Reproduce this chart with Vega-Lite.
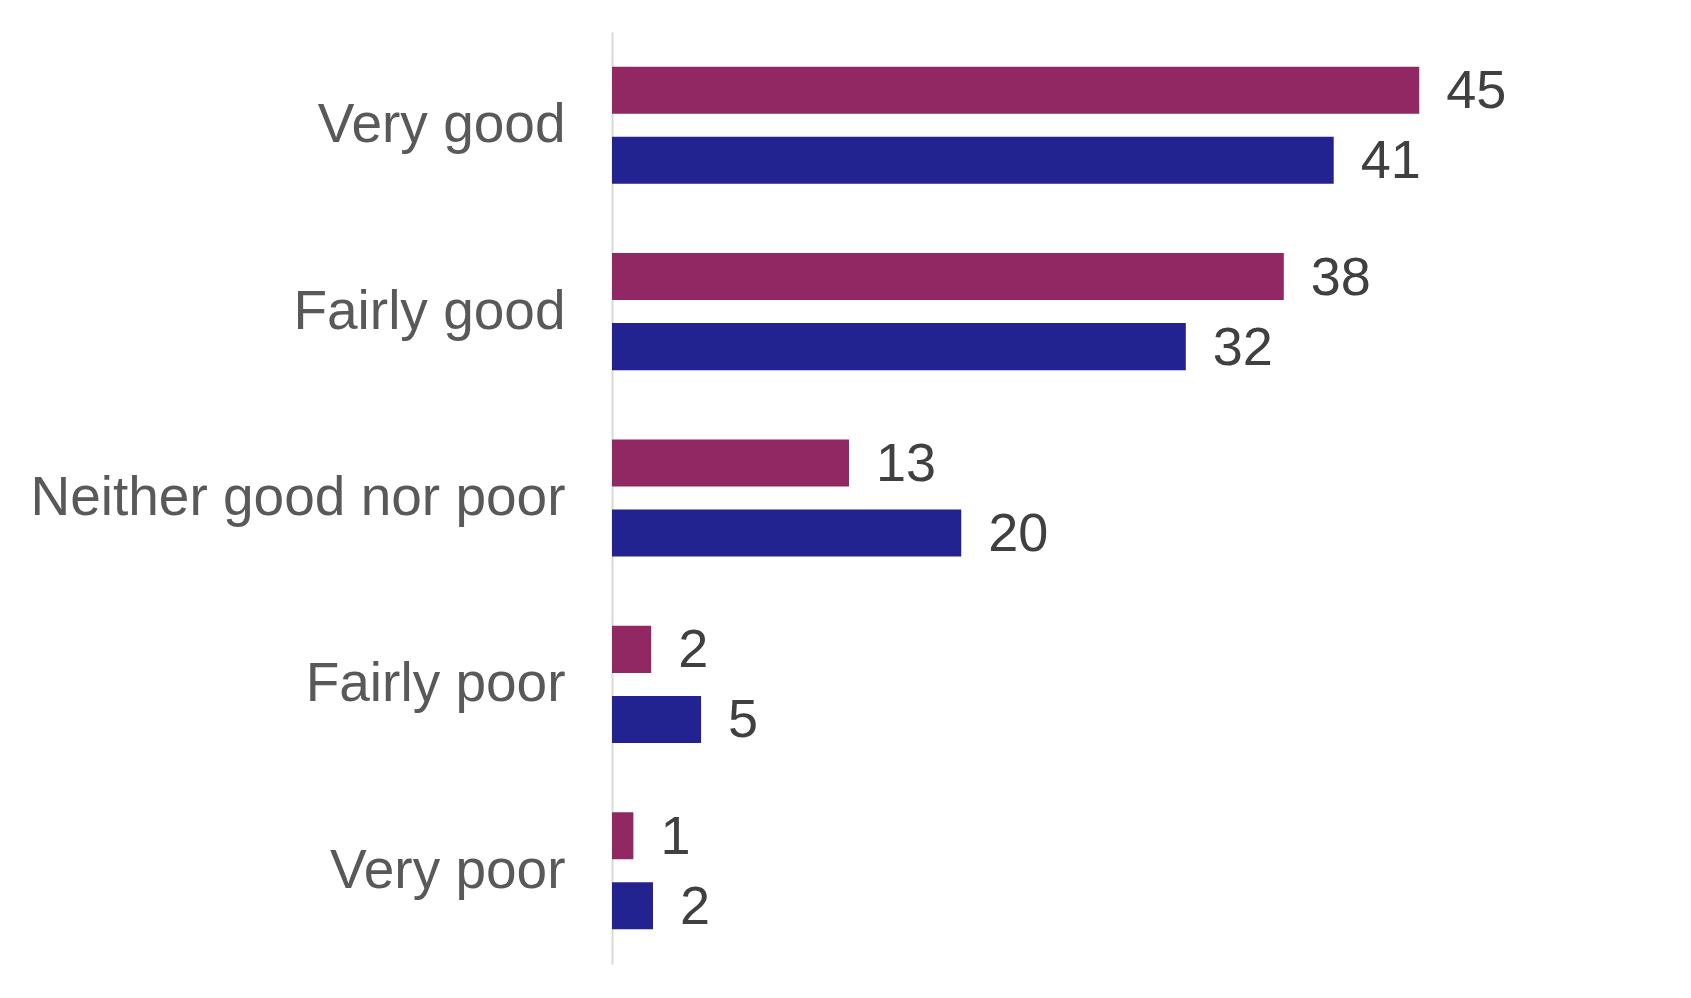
{
  "$schema": "https://vega.github.io/schema/vega-lite/v6.json",
  "autosize": {"type": "none"},
  "padding": {"left": 612, "top": 32, "right": 188, "bottom": 34},
  "width": 891,
  "height": 932,
  "background": "white",
  "config": {
    "view": {"stroke": null},
    "font": "Liberation Sans"
  },
  "data": {
    "values": [
      {"rating": "Very good", "series": "Group 1", "value": 45.3, "label": "45"},
      {"rating": "Very good", "series": "Group 2", "value": 40.5, "label": "41"},
      {"rating": "Fairly good", "series": "Group 1", "value": 37.7, "label": "38"},
      {"rating": "Fairly good", "series": "Group 2", "value": 32.2, "label": "32"},
      {"rating": "Neither good nor poor", "series": "Group 1", "value": 13.3, "label": "13"},
      {"rating": "Neither good nor poor", "series": "Group 2", "value": 19.6, "label": "20"},
      {"rating": "Fairly poor", "series": "Group 1", "value": 2.2, "label": "2"},
      {"rating": "Fairly poor", "series": "Group 2", "value": 5.0, "label": "5"},
      {"rating": "Very poor", "series": "Group 1", "value": 1.2, "label": "1"},
      {"rating": "Very poor", "series": "Group 2", "value": 2.3, "label": "2"}
    ]
  },
  "encoding": {
    "y": {
      "field": "rating", "type": "nominal", "sort": null,
      "scale": {"paddingInner": 0.372, "paddingOuter": 0.186},
      "axis": {
        "title": null,
        "ticks": false,
        "tickSize": 0,
        "grid": false,
        "domainColor": "#d9d9d9",
        "domainWidth": 2,
        "labelFont": "Liberation Sans",
        "labelFontSize": 55,
        "labelColor": "#595959",
        "labelPadding": 47,
        "labelLimit": 0
      }
    },
    "yOffset": {
      "field": "series", "type": "nominal", "sort": null,
      "scale": {"paddingInner": 0.329, "paddingOuter": 0}
    },
    "x": {
      "field": "value", "type": "quantitative",
      "scale": {"domain": [0, 50], "nice": false},
      "axis": null
    }
  },
  "layer": [
    {
      "mark": {"type": "bar"},
      "encoding": {
        "color": {
          "field": "series", "type": "nominal", "legend": null,
          "scale": {"domain": ["Group 1", "Group 2"], "range": ["#912864", "#222290"]}
        }
      }
    },
    {
      "mark": {
        "type": "text", "align": "left", "baseline": "middle", "dx": 27, "dy": 2,
        "font": "Liberation Sans", "fontSize": 54, "color": "#404040"
      },
      "encoding": {
        "text": {"field": "label", "type": "nominal"}
      }
    }
  ]
}
